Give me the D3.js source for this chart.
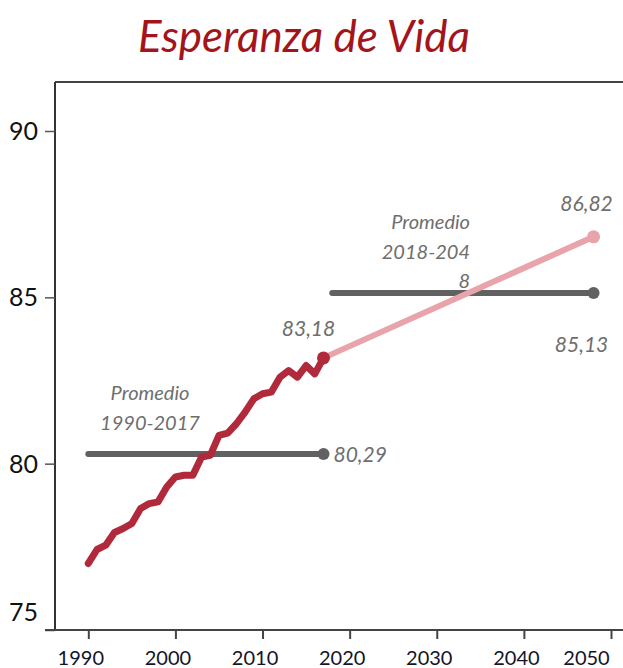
<!DOCTYPE html>
<html>
<head>
<meta charset="utf-8">
<script src="https://cdn.jsdelivr.net/npm/d3@7/dist/d3.min.js"></script>
<style>
  html, body { margin: 0; padding: 0; background: #fff; }
  svg { display: block; }
</style>
</head>
<body>
<div id="chart"></div>
<script>
// ---------- data ----------
const histYears  = [1990,1991,1992,1993,1994,1995,1996,1997,1998,1999,
                    2000,2001,2002,2003,2004,2005,2006,2007,2008,2009,
                    2010,2011,2012,2013,2014,2015,2016,2017];
const histValues = [77.0,77.42,77.55,77.93,78.05,78.2,78.65,78.8,78.85,79.3,
                    79.6,79.65,79.65,80.2,80.25,80.85,80.92,81.2,81.55,81.95,
                    82.1,82.15,82.6,82.8,82.6,82.95,82.7,83.18];
const projYears  = [2017, 2048];
const projValues = [83.18, 86.82];
const avgPeriods = [
  { from: 1990, to: 2017, value: 80.29 },
  { from: 2018, to: 2048, value: 85.13 }
];
const valueLabels = ["83,18", "80,29", "86,82", "85,13"];
const avgTitles   = [["Promedio", "1990-2017"], ["Promedio", "2018-204", "8"]];
const xTickValues = [1990, 2000, 2010, 2020, 2030, 2040, 2050];
const yTickValues = [75, 80, 85, 90];
const title = "Esperanza de Vida";

// ---------- layout ----------
const W = 623, H = 668;
const svg = d3.select("#chart").append("svg").attr("width", W).attr("height", H);

const x = d3.scaleLinear().domain([1990, 2050]).range([88.3, 611]);
const y = d3.scaleLinear().domain([75, 90]).range([630, 131]);

const FONT = "Lato, 'Open Sans', sans-serif";
const RED = "#b02a3b", PINK = "#e8a4aa", GREY = "#616161", LBL = "#6e6e6e";

// title
svg.append("text")
  .attr("x", 304).attr("y", 52)
  .attr("text-anchor", "middle")
  .attr("font-family", FONT).attr("font-style", "italic")
  .attr("font-size", 44).attr("fill", "#a3141b")
  .attr("textLength", 332).attr("lengthAdjust", "spacingAndGlyphs")
  .text(title);

// frame top
svg.append("line").attr("x1", 55).attr("x2", W).attr("y1", 82).attr("y2", 82)
  .attr("stroke", "#444").attr("stroke-width", 2);

// y axis
const yAxis = svg.append("g").attr("transform", "translate(55,0)")
  .call(d3.axisLeft(y).tickValues(yTickValues).tickSize(10).tickPadding(7).tickFormat(d3.format("d")));
yAxis.select(".domain").attr("stroke", "#333").attr("stroke-width", 2)
  .attr("d", `M0,82V${y(75)}`);
yAxis.selectAll(".tick line").attr("stroke", "#555").attr("stroke-width", 1.5);
yAxis.selectAll(".tick text")
  .attr("font-family", FONT).attr("font-size", 25).attr("fill", "#111")
  .attr("dy", d => d === 75 ? "-0.4em" : "0.34em");

// x axis
const xAxis = svg.append("g").attr("transform", `translate(0,${y(75)})`)
  .call(d3.axisBottom(x).tickValues(xTickValues).tickSize(9).tickPadding(12).tickFormat(d3.format("d")));
xAxis.select(".domain").attr("stroke", "#444").attr("stroke-width", 2)
  .attr("d", `M45,0H${W}`);
xAxis.selectAll(".tick line").attr("stroke", "#444").attr("stroke-width", 2);
xAxis.selectAll(".tick text")
  .attr("font-family", FONT).attr("font-size", 20).attr("fill", "#141428")
  .attr("x", d => d === 2050 ? -25 : -8);

// average lines
avgPeriods.forEach(p => {
  svg.append("line")
    .attr("x1", x(p.from)).attr("x2", x(p.to))
    .attr("y1", y(p.value)).attr("y2", y(p.value))
    .attr("stroke", GREY).attr("stroke-width", 6).attr("stroke-linecap", "round");
  svg.append("circle").attr("cx", x(p.to)).attr("cy", y(p.value)).attr("r", 6).attr("fill", GREY);
});

// projection line
const line = d3.line().x(d => x(d[0])).y(d => y(d[1]));
svg.append("path")
  .datum(projYears.map((yr, i) => [yr, projValues[i]]))
  .attr("d", line).attr("fill", "none")
  .attr("stroke", PINK).attr("stroke-width", 6).attr("stroke-linecap", "round");
svg.append("circle").attr("cx", x(projYears[1])).attr("cy", y(projValues[1])).attr("r", 6.5).attr("fill", PINK);

// historical line
svg.append("path")
  .datum(histYears.map((yr, i) => [yr, histValues[i]]))
  .attr("d", line).attr("fill", "none")
  .attr("stroke", RED).attr("stroke-width", 7)
  .attr("stroke-linecap", "round").attr("stroke-linejoin", "round");
svg.append("circle")
  .attr("cx", x(histYears[histYears.length - 1])).attr("cy", y(histValues[histValues.length - 1]))
  .attr("r", 6.5).attr("fill", RED);

// value labels
function lbl(tx, ty, anchor, s) {
  svg.append("text").attr("x", tx).attr("y", ty).attr("text-anchor", anchor)
    .attr("font-family", FONT).attr("font-style", "italic")
    .attr("font-size", 21).attr("fill", LBL).text(s);
}
lbl(x(2017) - 15, y(83.18) - 22, "middle", valueLabels[0]);
lbl(x(2017) + 10, y(80.29) + 8, "start", valueLabels[1]);
lbl(x(2048) - 7, y(86.82) - 26, "middle", valueLabels[2]);
lbl(x(2048) - 12, y(85.13) + 59, "middle", valueLabels[3]);

// average titles
function block(lines, tx, ty, anchor) {
  lines.forEach((s, i) => {
    svg.append("text").attr("x", tx).attr("y", ty + i * 29.5).attr("text-anchor", anchor)
      .attr("font-family", FONT).attr("font-style", "italic")
      .attr("font-size", 20).attr("fill", LBL).text(s);
  });
}
block(avgTitles[0], 150, 400, "middle");
block(avgTitles[1], 470, 229, "end");
</script>
</body>
</html>
